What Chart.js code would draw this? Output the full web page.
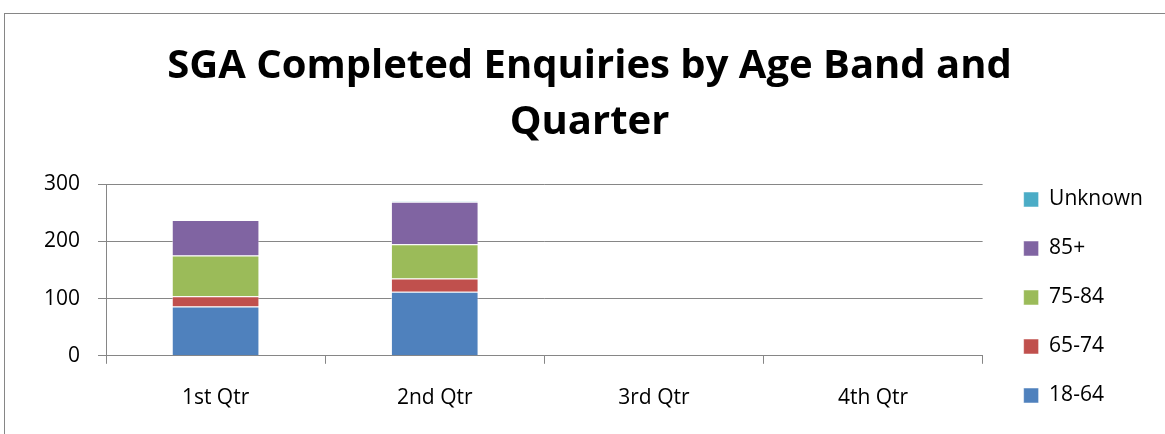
<!DOCTYPE html>
<html>
<head>
<meta charset="utf-8">
<script src="https://cdn.jsdelivr.net/npm/chart.js@4"></script>
<style>
    html, body { margin: 0; padding: 0; background: #fff; }
    #wrap { position: relative; width: 1165px; height: 434px; }
</style>
</head>
<body>
<div id="wrap"><canvas id="ageChart"></canvas></div>
<script>
// data
const quarters = ['1st Qtr', '2nd Qtr', '3rd Qtr', '4th Qtr'];
const band1864 = [86, 112, null, null];
const band6574 = [18, 23, null, null];
const band7584 = [71, 60, null, null];
const band85 = [62, 74, null, null];
const bandUnknown = [0, 1, null, null];
const yTicks = [0, 100, 200, 300];

const fontName = "'Open Sans', 'Liberation Sans', sans-serif";

// grey frame around the whole chart, like the office chart box
const framePlugin = {
    id: 'frame',
    beforeDraw(chart) {
        const ctx = chart.ctx;
        ctx.save();
        ctx.strokeStyle = '#868686';
        ctx.lineWidth = 1;
        ctx.strokeRect(4.5, 13.5, chart.width + 10, chart.height + 10);
        ctx.restore();
    }
};

function makeSet(label, values, color) {
    return {
        label: label,
        data: values,
        backgroundColor: color,
        borderColor: 'rgba(255,255,255,0.5)',
        borderWidth: 1,
        categoryPercentage: 0.4,
        barPercentage: 1.0,
    };
}

new Chart(document.getElementById('ageChart'), {
    type: 'bar',
    data: {
        labels: quarters,
        datasets: [
            makeSet('18-64', band1864, '#4F81BD'),
            makeSet('65-74', band6574, '#C0504D'),
            makeSet('75-84', band7584, '#9BBB59'),
            makeSet('85+', band85, '#8064A2'),
            makeSet('Unknown', bandUnknown, '#4BACC6'),
        ],
    },
    options: {
        responsive: true,
        maintainAspectRatio: false,
        animation: false,
        layout: { padding: { top: 13, left: 26, right: 12, bottom: 0 } },
        plugins: {
            title: {
                display: true,
                text: ['SGA Completed Enquiries by Age Band and', 'Quarter'],
                color: '#000',
                font: { family: fontName, size: 40, weight: 'bold', lineHeight: 1.4 },
                padding: { top: 26, bottom: 33 },
            },
            legend: {
                position: 'right',
                reverse: true,
                align: 'end',
                labels: {
                    color: '#000',
                    boxWidth: 15,
                    boxHeight: 15,
                    padding: 28,
                    font: { family: fontName, size: 21 },
                },
            },
            tooltip: { enabled: false },
        },
        scales: {
            x: {
                stacked: true,
                grid: { drawOnChartArea: false, color: '#868686', tickLength: 8 },
                border: { color: '#868686' },
                ticks: { color: '#000', padding: 22, font: { family: fontName, size: 21 } },
                afterFit(axis) { axis.height += 1; },
            },
            y: {
                stacked: true,
                min: 0,
                max: 300,
                afterBuildTicks(axis) { axis.ticks = yTicks.map(v => ({ value: v })); },
                grid: { color: '#868686', tickLength: 8 },
                border: { color: '#868686' },
                ticks: { color: '#000', padding: 18, font: { family: fontName, size: 21 } },
            },
            // empty spacer so the plot stops short of the legend
            gap: {
                position: 'right',
                display: true,
                grid: { display: false },
                border: { display: false },
                ticks: { display: false },
                afterFit(axis) { axis.width = 13; },
            },
        },
    },
    plugins: [framePlugin],
});
</script>
</body>
</html>
